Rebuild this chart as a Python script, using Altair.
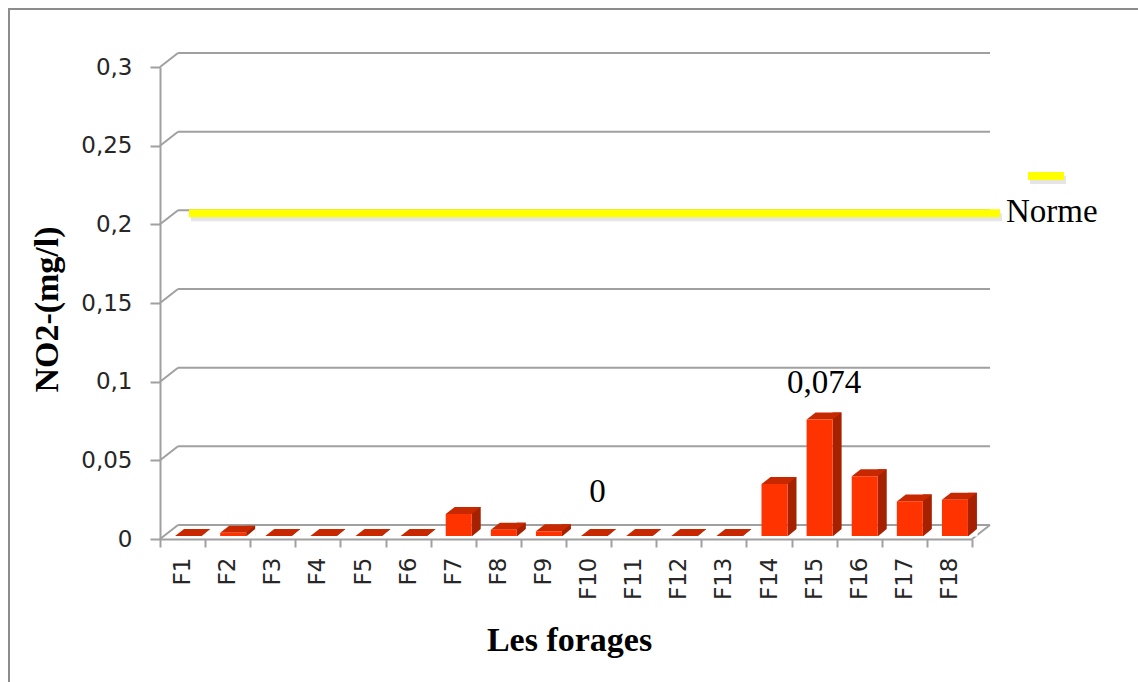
import altair as alt
import pandas as pd

# Nitrite (NO2-) concentration per borehole, mg/l
wells = ["F1", "F2", "F3", "F4", "F5", "F6", "F7", "F8", "F9",
         "F10", "F11", "F12", "F13", "F14", "F15", "F16", "F17", "F18"]
no2 = [0, 0.002, 0, 0, 0, 0, 0.014, 0.004, 0.003,
       0, 0, 0, 0, 0.033, 0.074, 0.038, 0.022, 0.023]
y_ticks = [0, 0.05, 0.1, 0.15, 0.2, 0.25, 0.3]
norme_value = 0.2
norme_label = "Norme"

# plot geometry (pixels)
W, H = 812, 472
WALL_DX, WALL_DY = 18, -14      # depth of the back wall / floor
BAR_W = 26                       # front face width
BAR_SHIFT = 5.5                  # front face shift from band centre
BASE_LIFT = -3                   # bars sit slightly behind the front edge
BAR_DY = -7                      # bar depth (vertical)

FRONT = "#FF3300"
TOP = "#C82800"
SIDE = "#A52100"
GRAY = "#A0A0A0"
YELLOW = "#FFFF00"
SERIF = "Liberation Serif"
SANS = "DejaVu Sans"
LABEL_COLOR = "#262626"

bars_df = pd.DataFrame({"well": wells, "no2": no2})
grid_df = pd.DataFrame({"v": y_ticks})
norme_df = pd.DataFrame({"norme": [norme_value], "label": [norme_label]})

y_scale = alt.Scale(domain=[0, 0.3], nice=False, zero=True)
x_scale = alt.Scale(paddingInner=0, paddingOuter=0)

x_axis = alt.Axis(
    title="Les forages", titleFont=SERIF, titleFontSize=34,
    titleFontWeight="bold", titleColor="black",
    titleX=409, titleY=101, titleAlign="center", titleBaseline="middle",
    labelFont=SANS, labelFontSize=23, labelColor=LABEL_COLOR,
    labelAngle=270, labelAlign="right", labelBaseline="middle",
    labelPadding=10, tickBand="extent", ticks=True, tickSize=8,
    tickWidth=2, tickColor=GRAY, domainColor=GRAY, domainWidth=2,
    grid=False,
)
y_axis = alt.Axis(
    title="NO2-(mg/l)", titleFont=SERIF, titleFontSize=34,
    titleFontWeight="bold", titleColor="black", titleAngle=270,
    titleX=-113, titleY=242, titleAlign="center", titleBaseline="middle",
    values=y_ticks,
    labelExpr="replace(toString(datum.value), '.', ',')",
    labelFont=SANS, labelFontSize=23, labelColor=LABEL_COLOR,
    labelPadding=18, tickSize=10, tickWidth=2, tickColor=GRAY,
    domainColor=GRAY, domainWidth=2, grid=False,
)

x_enc = alt.X("well:N", sort=wells, scale=x_scale, axis=x_axis)
y_enc = alt.Y("no2:Q", scale=y_scale, axis=y_axis, stack=None)
y_zero = alt.Y2(datum=0)

base = alt.Chart(bars_df)

# back wall gridlines, shifted by the wall depth
back_grid = alt.Chart(grid_df).mark_rule(
    color=GRAY, strokeWidth=2, yOffset=WALL_DY
).encode(
    y=alt.Y("v:Q", scale=y_scale, axis=y_axis),
    x=alt.value(WALL_DX),
    x2=alt.value(W + WALL_DX),
)

# side wall connectors from the front axis to the back wall
connectors = alt.Chart(grid_df).mark_rule(
    color=GRAY, strokeWidth=2, y2Offset=WALL_DY
).encode(
    y=alt.Y("v:Q", scale=y_scale, axis=y_axis),
    y2=alt.Y2("v:Q"),
    x=alt.value(0),
    x2=alt.value(WALL_DX),
)

# right edge of the floor
floor_edge = alt.Chart(grid_df).transform_filter(alt.datum.v == 0).mark_rule(
    color=GRAY, strokeWidth=2, y2Offset=WALL_DY
).encode(
    y=alt.Y("v:Q", scale=y_scale, axis=y_axis),
    y2=alt.Y2("v:Q"),
    x=alt.value(W),
    x2=alt.value(W + WALL_DX),
)

# side faces (rect covering the side parallelogram)
side_x = BAR_SHIFT + BAR_W / 2 + 4.5
sides = base.mark_bar(
    width=9, xOffset=side_x, yOffset=BASE_LIFT + BAR_DY, y2Offset=BASE_LIFT,
    color=SIDE,
).encode(x=x_enc, y=y_enc, y2=y_zero)

# trim the lower corner of each side face
r = BAR_SHIFT + BAR_W / 2
trim_path = f"M{r},0.6 L{r + 9.6},{BAR_DY - 0.6} L{r + 9.6},0.6 Z"
trims = base.mark_point(
    shape=trim_path, size=4, filled=True, opacity=1, strokeWidth=0,
    color="white", yOffset=BASE_LIFT,
).encode(x=x_enc, y=alt.Y(datum=0, scale=y_scale, axis=y_axis))

# top faces
l = BAR_SHIFT - BAR_W / 2
top_path = f"M{l},0 L{r},0 L{r + 9},{BAR_DY} L{l + 9},{BAR_DY} Z"
tops = base.mark_point(
    shape=top_path, size=4, filled=True, opacity=1, strokeWidth=0,
    color=TOP, yOffset=BASE_LIFT,
).encode(x=x_enc, y=y_enc)

# front faces
fronts = base.mark_bar(
    width=BAR_W, xOffset=BAR_SHIFT, yOffset=BASE_LIFT, y2Offset=BASE_LIFT,
    color=FRONT,
).encode(x=x_enc, y=y_enc, y2=y_zero)

# value labels
labels = base.transform_calculate(
    txt="replace(toString(datum.no2), '.', ',')"
)
label_max = labels.transform_filter(alt.datum.well == "F15").mark_text(
    font=SERIF, fontSize=33, color="black", dx=10, dy=-40, baseline="middle",
).encode(x=x_enc, y=y_enc, text="txt:N")
label_zero = labels.transform_filter(alt.datum.well == "F10").mark_text(
    font=SERIF, fontSize=33, color="black", dx=9, dy=-47, baseline="middle",
).encode(x=x_enc, y=y_enc, text="txt:N")

# standard (norme) line with a soft shadow
norme_chart = alt.Chart(norme_df)
norme_shadow = norme_chart.mark_rule(
    color="black", opacity=0.10, strokeWidth=8, yOffset=-7, strokeCap="butt"
).encode(
    y=alt.Y("norme:Q", scale=y_scale, axis=y_axis),
    x=alt.value(31), x2=alt.value(842),
)
norme_line = norme_chart.mark_rule(
    color=YELLOW, strokeWidth=8, yOffset=-11, strokeCap="butt"
).encode(
    y=alt.Y("norme:Q", scale=y_scale, axis=y_axis),
    x=alt.value(29), x2=alt.value(840),
)

# legend
legend_shadow = norme_chart.mark_rule(
    color="black", opacity=0.10, strokeWidth=8, strokeCap="butt"
).encode(x=alt.value(870), x2=alt.value(906), y=alt.value(113))
legend_swatch = norme_chart.mark_rule(
    color=YELLOW, strokeWidth=8, strokeCap="butt"
).encode(x=alt.value(868), x2=alt.value(904), y=alt.value(109))
legend_text = norme_chart.mark_text(
    font=SERIF, fontSize=33, color="black", align="left", baseline="middle",
).encode(x=alt.value(846), y=alt.value(145), text="label:N")

# outer frame
frame_left = norme_chart.mark_rule(color="#8C8C8C", strokeWidth=2).encode(
    x=alt.value(-151), y=alt.value(-58), y2=alt.value(620)
)
frame_top = norme_chart.mark_rule(color="#8C8C8C", strokeWidth=2).encode(
    y=alt.value(-58), x=alt.value(-152), x2=alt.value(990)
)

chart = alt.layer(
    frame_left, frame_top,
    back_grid, connectors, floor_edge,
    norme_shadow, norme_line,
    sides, trims, tops, fronts,
    label_max, label_zero,
    legend_shadow, legend_swatch, legend_text,
).properties(
    width=W, height=H,
    autosize=alt.AutoSizeParams(type="none"),
    padding={"left": 160, "top": 67, "right": 166, "bottom": 143},
    background="white",
).configure_view(stroke=None)

chart.save("out.html", embed_options={"renderer": "svg", "actions": False})
